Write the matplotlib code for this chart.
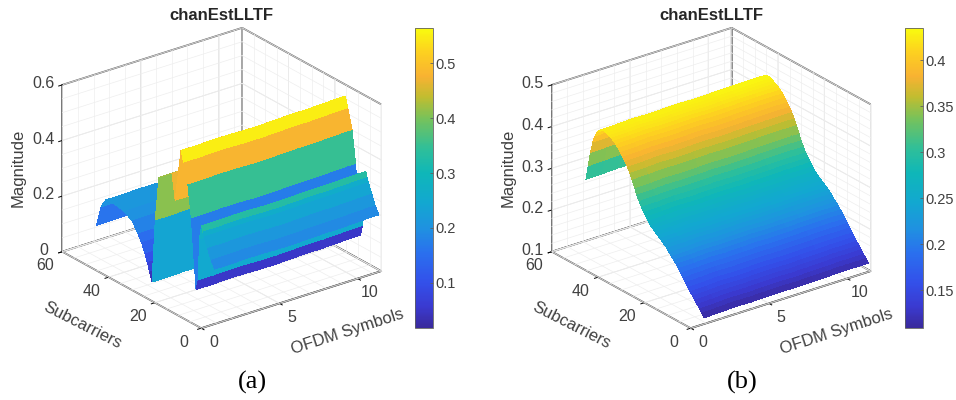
import numpy as np
import matplotlib
matplotlib.use('Agg')
import matplotlib.pyplot as plt
from matplotlib.colors import LinearSegmentedColormap, Normalize

plt.rcParams['font.family'] = ['Liberation Sans', 'DejaVu Sans']

symbols = [1, 2, 3, 4, 5, 6, 7, 8, 9, 10, 11, 11.5]
x_ticks = [0, 5, 10]
y_ticks = [0, 20, 40, 60]

# panel (a): one magnitude per subcarrier row, and the flat colour of each strip
a_subcarriers = [1, 2.5, 4, 5.5, 6, 6.6, 7.5, 8, 9, 11, 12.5, 14.3, 15.5, 18, 19.4, 25, 26.6, 28, 29, 30, 31, 32.5, 34, 36.6, 40, 44, 48, 50, 52]
a_magnitude = [.19, .215, .25, .285, .30, .32, .27, .12, .08, .325, .44, .51, .55, .36, .45, .41, .25, .02, .05, .08, .107, .14, .165, .2, .218, .226, .223, .19, .114]
a_strip_value = [.19, .21, .24, .26, .33, .27, .25, .05, .17, .35, .48, .55, .48, .47, .42, .41, .24, .04, .07, .1, .13, .15, .18, .2, .21, .21, .2, .16]
a_symbol_offset = [0, 0, .002, .002, 0, 0, .002, .004, .004, .006, .008, .008]
a_z_ticks = [0, .2, .4, .6]
a_bar_ticks = [.1, .2, .3, .4, .5]

# panel (b): smooth profile over the 52 subcarriers
b_subcarriers = list(range(1, 53))
b_magnitude = [.110, .118, .125, .133, .140, .147, .154, .161, .170, .178, .186, .194, .201, .208, .214, .220,
               .227, .232, .237, .242, .246, .250, .255, .260, .268, .275, .283, .292, .303, .315, .330, .345,
               .358, .370, .380, .388, .396, .403, .409, .414, .418, .421, .424, .426, .425, .422, .415, .403,
               .385, .357, .322, .286]
b_symbol_offset = [0, .001, .003, .002, .003, .004, .003, .004, .005, .006, .006, .006]
b_z_ticks = [.1, .2, .3, .4, .5]
b_bar_ticks = [.15, .2, .25, .3, .35, .4]

parula = LinearSegmentedColormap.from_list('parula', [
    (0, '#3a2a9c'), (.07, '#3a3ad0'), (.15, '#3350ea'), (.25, '#2a70ee'), (.333, '#1f92e0'), (.42, '#12a8d0'),
    (.517, '#0fb7b8'), (.6, '#30bf98'), (.7, '#78c25a'), (.77, '#c0bd30'), (.84, '#f8b232'), (.92, '#fdd020'),
    (1, '#f9fb0e')], N=256)

fig = plt.figure(figsize=(9.56, 4), dpi=100)
W, H = 956, 400
GRAY = '#606060'
TEXT = '#404040'


def minor_grid(ax, xlim, ylim, zlim, z_step):
    for v in np.arange(xlim[0], xlim[1], 1):
        ax.plot([v, v], [ylim[1], ylim[1]], zlim, color='#eeeeee', lw=.5, zorder=1)
        ax.plot([v, v], ylim, [zlim[0], zlim[0]], color='#eeeeee', lw=.5, zorder=1)
    for v in np.arange(ylim[0], ylim[1], 5):
        ax.plot([xlim[1], xlim[1]], [v, v], zlim, color='#eeeeee', lw=.5, zorder=1)
        ax.plot(xlim, [v, v], [zlim[0], zlim[0]], color='#eeeeee', lw=.5, zorder=1)
    for v in np.arange(zlim[0], zlim[1], z_step):
        ax.plot(xlim, [ylim[1], ylim[1]], [v, v], color='#eeeeee', lw=.5, zorder=1)
        ax.plot([xlim[1], xlim[1]], ylim, [v, v], color='#eeeeee', lw=.5, zorder=1)


def panel(cx, cy, bar_x, zlim, z_ticks, z_step, vmin, vmax, bar_ticks, tag):
    side = 360
    left = cx - .5135 * side
    bottom = (H - cy) - .5135 * side
    ax = fig.add_axes([left / W, bottom / H, side / W, side / H], projection='3d',
                      proj_type='ortho', computed_zorder=False)
    ax.view_init(elev=24.7, azim=-127.2)
    ax.set_box_aspect((226, 230, 183.8), zoom=1)
    ax.patch.set_alpha(0)
    xlim, ylim = (0, 11.5), (0, 60)
    minor_grid(ax, xlim, ylim, zlim, z_step)

    for axis in (ax.xaxis, ax.yaxis, ax.zaxis):
        axis.set_pane_color((1, 1, 1, 1))
        axis.pane.set_edgecolor(GRAY)
        axis.pane.set_linewidth(1.2)
        axis.line.set_color(GRAY)
        axis.line.set_linewidth(1.2)
        axis._axinfo['grid'].update(color='#e0e0e0', linewidth=.6)
        axis._axinfo['tick'].update(color=GRAY, inward_factor=.25, outward_factor=0, linewidth={True: .7, False: .5})

    ax.set_xticks(x_ticks)
    ax.set_yticks(y_ticks)
    ax.set_zticks(z_ticks)
    ax.set_zticklabels([f'{v:g}' for v in z_ticks])
    ax.tick_params(labelsize=11.5, labelcolor=TEXT)
    ax.tick_params(axis='x', pad=4)
    ax.tick_params(axis='y', pad=5)
    ax.tick_params(axis='z', pad=0)
    for lab in ax.get_xticklabels() + ax.get_yticklabels():
        lab.set_va('bottom')
    for lab in ax.get_zticklabels():
        lab.set_va('center')
    ax.set_xlim(*xlim)
    ax.set_ylim(*ylim)
    ax.set_zlim(*zlim)

    dx = cx - 221.5
    fig.text((18 + dx) / W, 1 - 168 / H, 'Magnitude', fontsize=12, color=TEXT, rotation=90, ha='center', va='center')
    fig.text((347 + dx) / W, 1 - 332 / H, 'OFDM Symbols', fontsize=12, color=TEXT, rotation=18,
             rotation_mode='anchor', ha='center', va='center')
    fig.text((82 + dx) / W, 1 - 325 / H, 'Subcarriers', fontsize=12, color=TEXT, rotation=-27,
             rotation_mode='anchor', ha='center', va='center')
    fig.text(cx / W, 1 - 15 / H, 'chanEstLLTF', fontsize=12, fontweight='bold', color='#262626', ha='center', va='center')
    fig.text((cx + 31) / W, 1 - 382 / H, tag, fontsize=19, family='Liberation Serif', color='black', ha='center', va='center')

    cax = fig.add_axes([bar_x / W, 1 - 328 / H, 18 / W, 300 / H])
    cb = fig.colorbar(plt.cm.ScalarMappable(Normalize(vmin, vmax), parula), cax=cax)
    cb.set_ticks(bar_ticks)
    cb.set_ticklabels([f'{v:g}' for v in bar_ticks])
    cb.ax.tick_params(direction='in', length=2.5, width=.6, color=GRAY, labelsize=10.5, labelcolor=TEXT, pad=2)
    cb.outline.set_edgecolor(GRAY)
    cb.outline.set_linewidth(.6)
    return ax


# (a)
ax_a = panel(221.7, 178, 415, (0, .6), a_z_ticks, .05, .018, .564, a_bar_ticks, '(a)')
X, Y = np.meshgrid(symbols, a_subcarriers)
Z = np.array(a_magnitude)[:, None] + np.array(a_symbol_offset)[None, :]
norm_a = Normalize(.018, .564)
# one surface per strip, far rows first, so the steep walls overlap in the right order
for i in range(len(a_subcarriers) - 1):
    colors = parula(norm_a(np.full((1, len(symbols) - 1), a_strip_value[i])))
    ax_a.plot_surface(X[i:i + 2], Y[i:i + 2], Z[i:i + 2], rstride=1, cstride=1, facecolors=colors,
                      shade=False, linewidth=0, antialiased=False, zorder=100 - i)

# (b)
ax_b = panel(711.2, 178, 905, (.1, .5), b_z_ticks, .02, .109, .435, b_bar_ticks, '(b)')
X, Y = np.meshgrid(symbols, b_subcarriers)
Z = np.array(b_magnitude)[:, None] + np.array(b_symbol_offset)[None, :]
ax_b.plot_surface(X, Y, Z, rstride=1, cstride=1, cmap=parula, vmin=.109, vmax=.435,
                  linewidth=0, antialiased=False, zorder=2)

fig.savefig('out.png', dpi=100)
